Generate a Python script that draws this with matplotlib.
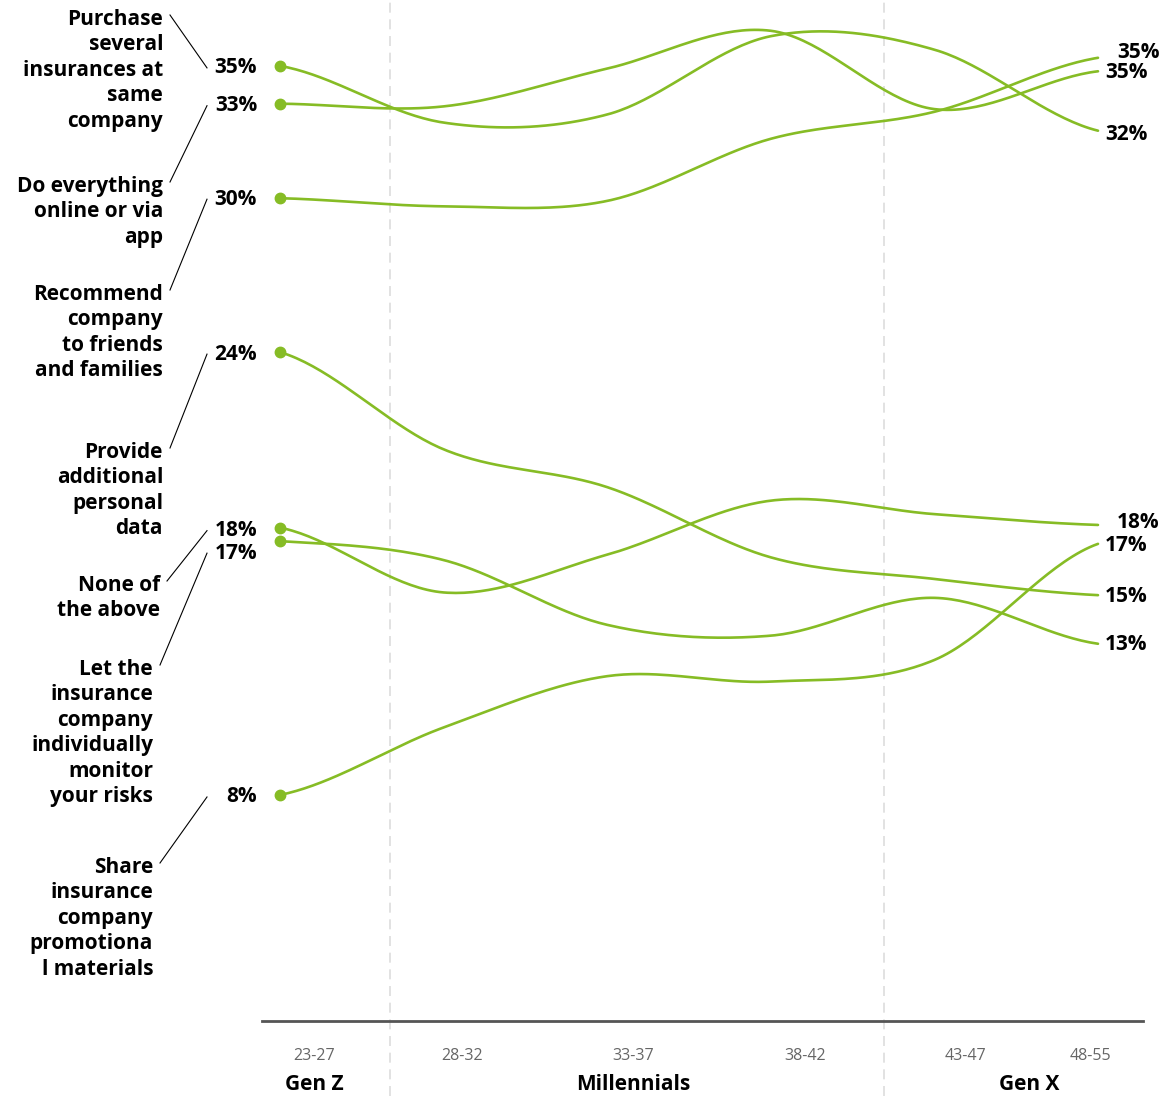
import matplotlib.pyplot as plt
import numpy as np
from matplotlib.lines import Line2D

plt.rcParams['font.family'] = ['Open Sans', 'DejaVu Sans']

age_groups = ["23-27", "28-32", "33-37", "38-42", "43-47", "48-55"]
generations = ["Gen Z", "Millennials", "Gen X"]

labels = [
    "Purchase\nseveral\ninsurances at\nsame\ncompany",
    "Do everything\nonline or via\napp",
    "Recommend\ncompany\nto friends\nand families",
    "Provide\nadditional\npersonal\ndata",
    "None of\nthe above",
    "Let the\ninsurance\ncompany\nindividually\nmonitor\nyour risks",
    "Share\ninsurance\ncompany\npromotiona\nl materials",
]

# share of respondents (%) per age group
purchase = [34.8, 32.7, 33.0, 35.9, 35.4, 32.4]
online = [33.4, 33.3, 34.7, 36.1, 33.2, 34.6]
recommend = [29.9, 29.6, 29.8, 32.1, 33.1, 35.1]
personal = [24.2, 20.6, 19.2, 16.6, 15.8, 15.2]
none_above = [17.7, 15.3, 16.7, 18.7, 18.2, 17.8]
monitor = [17.2, 16.5, 14.1, 13.7, 15.1, 13.4]
promo = [7.8, 10.3, 12.2, 12.0, 12.8, 17.1]

series = [purchase, online, recommend, personal, none_above, monitor, promo]

green = "#86bc25"
W, H = 1160, 1096
step = 163.6  # px between age groups

# layout (pixels)
label_right = [163, 163, 163, 163, 160, 153, 153]
label_first = [17, 184, 292, 450, 583, 667, 865]
start_nudge = [2, 2, 1, 2, 3, 12, 2]
end_nudge = [4, 1, -5, 1, -2, 1, 2]
end_dx = [0, 0, 12, 0, 12, 0, 0]


def smooth(vals, n=40):
    # cardinal (catmull-rom) curve through the points
    y = np.asarray(vals, float)
    m = np.empty_like(y)
    m[1:-1] = (y[2:] - y[:-2]) / 2
    m[0] = (y[1] - y[0]) / 2
    m[-1] = (y[-1] - y[-2]) / 2
    xs, ys = [], []
    for i in range(len(y) - 1):
        t = np.linspace(0, 1, n, endpoint=(i == len(y) - 2))
        h00 = 2*t**3 - 3*t**2 + 1
        h10 = t**3 - 2*t**2 + t
        h01 = -2*t**3 + 3*t**2
        h11 = t**3 - t**2
        xs.append(i + t)
        ys.append(h00*y[i] + h10*m[i] + h01*y[i+1] + h11*m[i+1])
    return np.concatenate(xs), np.concatenate(ys)


fig = plt.figure(figsize=(W/100, H/100), dpi=100)
ax = fig.add_axes([262/W, 75/H, 881/W, 1021/H])
ax.set_xlim(-18/step, 5 + 45/step)
ax.set_ylim(-0.57, 37.24)
for s in ["top", "left", "right"]:
    ax.spines[s].set_visible(False)
ax.spines["bottom"].set_color("#555555")
ax.spines["bottom"].set_linewidth(2)
ax.set_xticks([])
ax.set_yticks([])


def px2x(p):
    return (p - 280) / step


for p in [390, 884]:
    ax.axvline(px2x(p), ymin=-75/1021, ymax=1, clip_on=False, color="#dddddd",
               lw=1.2, ls=(0, (6, 4)), zorder=0)

for vals in series:
    xs, ys = smooth(vals)
    ax.plot(xs, ys, color=green, lw=1.9, solid_capstyle="round", zorder=2)
    ax.plot(0, vals[0], "o", ms=7.5, color=green, zorder=3, clip_on=False)


def ypx(v):
    return H - ax.transData.transform((0, v))[1]


fs = 15
for i, vals in enumerate(series):
    ax.annotate(f"{vals[0]:.0f}%", xy=(0, vals[0]), xytext=(-23, -start_nudge[i]),
                textcoords="offset pixels", ha="right", va="center",
                fontsize=fs, fontweight="bold", color="black")
    ax.annotate(f"{vals[-1]:.0f}%", xy=(5, vals[-1]), xytext=(7 + end_dx[i], -end_nudge[i]),
                textcoords="offset pixels", ha="left", va="center",
                fontsize=fs, fontweight="bold", color="black", annotation_clip=False)
    fig.text(label_right[i]/W, 1 - (label_first[i] - 8)/H, labels[i],
             ha="right", va="top", fontsize=fs, fontweight="bold",
             linespacing=1.28, color="black")
    y0 = label_first[i] - 2
    y1 = ypx(vals[0]) + start_nudge[i]
    x0 = label_right[i] + 7
    fig.add_artist(Line2D([x0/W, 207/W], [1 - y0/H, 1 - y1/H],
                          transform=fig.transFigure, color="black", lw=0.8))

tick_px = [314, 462, 633, 805, 965, 1090]
for p, lab in zip(tick_px, age_groups):
    fig.text(p/W, 1 - 1056/H, lab, ha="center", va="center",
             fontsize=11.5, color="#666666")

gen_px = [314, 633, 1029]
for p, lab in zip(gen_px, generations):
    fig.text(p/W, 1 - 1085/H, lab, ha="center", va="center",
             fontsize=15, fontweight="bold", color="black")

fig.savefig("out.png", dpi=100)
